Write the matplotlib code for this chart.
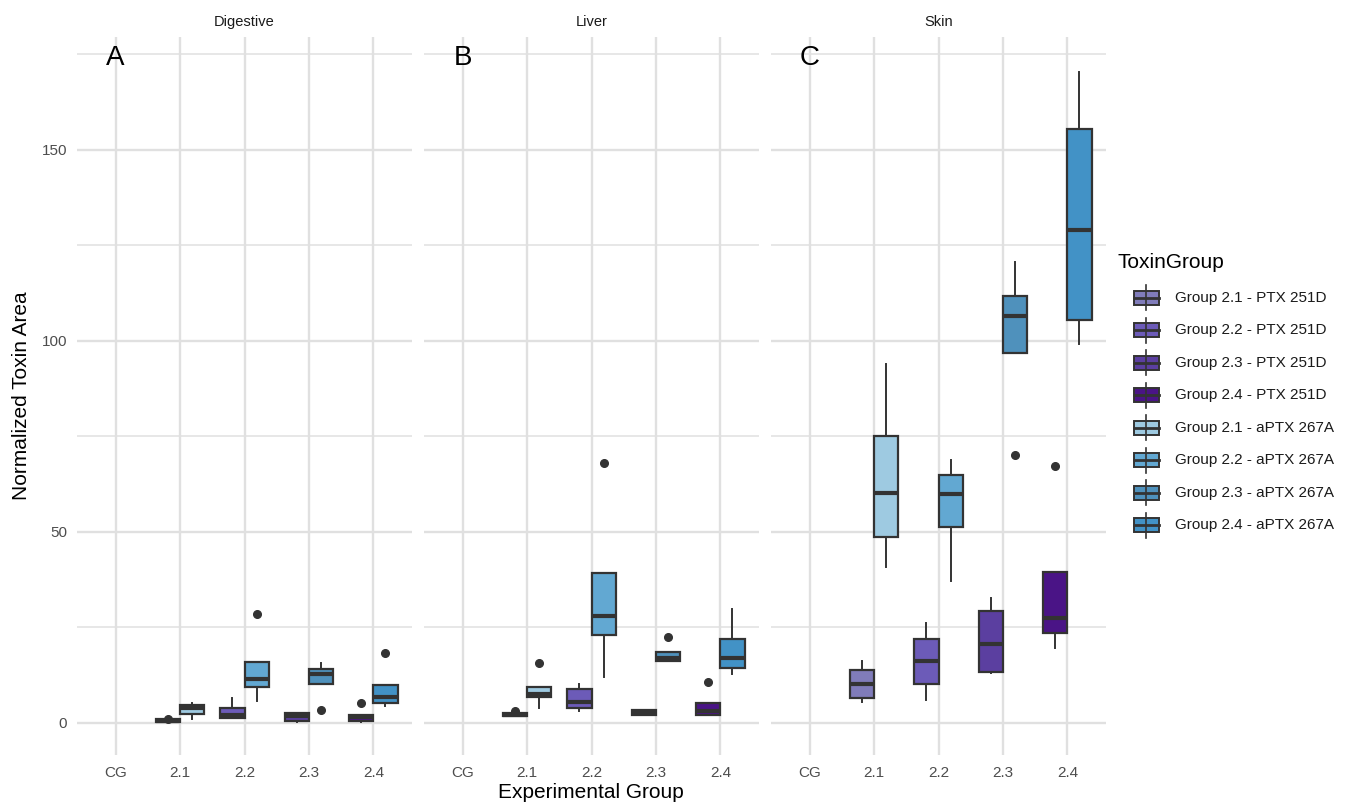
import matplotlib
matplotlib.use('Agg')
import matplotlib.pyplot as plt
from matplotlib.patches import Rectangle
from matplotlib.lines import Line2D
import numpy as np

plt.rcParams['font.family'] = ['Liberation Sans', 'DejaVu Sans']

W, H = 1351, 802

tissues = ['Digestive', 'Liver', 'Skin']
panel_tags = ['A', 'B', 'C']
groups = ['CG', '2.1', '2.2', '2.3', '2.4']
box_groups = ['2.1', '2.2', '2.3', '2.4']
toxins = ['PTX 251D', 'aPTX 267A']

# colours per ToxinGroup level
ptx_colors = ['#807CBA', '#6C5BB8', '#5B3FA0', '#4A1486']
aptx_colors = ['#9ECAE1', '#62A8D2', '#4F91BC', '#4292C6']

# ---- box statistics (groups 2.1 .. 2.4) ----
# Digestive
dig_ptx_lo = [0.1, 1.1, 0.2, 0.2]
dig_ptx_q1 = [0.2, 1.1, 0.3, 0.3]
dig_ptx_med = [0.5, 2.0, 1.6, 1.4]
dig_ptx_q3 = [0.9, 3.7, 2.4, 2.1]
dig_ptx_hi = [0.9, 6.5, 2.6, 2.1]
dig_ptx_out = [[1.0], [], [], [5.0]]

dig_aptx_lo = [1.0, 5.6, 10.0, 4.2]
dig_aptx_q1 = [2.3, 9.2, 10.0, 5.2]
dig_aptx_med = [3.9, 11.5, 12.8, 6.6]
dig_aptx_q3 = [4.7, 15.8, 13.9, 9.7]
dig_aptx_hi = [5.2, 15.8, 15.5, 9.7]
dig_aptx_out = [[], [28.3], [3.2], [18.1]]

# Liver
liv_ptx_lo = [1.6, 3.1, 2.1, 2.1]
liv_ptx_q1 = [1.6, 3.7, 2.1, 2.1]
liv_ptx_med = [2.0, 5.3, 2.8, 3.1]
liv_ptx_q3 = [2.4, 8.7, 3.4, 5.2]
liv_ptx_hi = [2.4, 10.2, 3.4, 5.2]
liv_ptx_out = [[2.9], [], [], [10.5]]

liv_aptx_lo = [3.9, 11.8, 16.2, 12.8]
liv_aptx_q1 = [6.6, 23.0, 16.2, 14.2]
liv_aptx_med = [7.6, 28.0, 17.0, 17.0]
liv_aptx_q3 = [9.4, 39.1, 18.4, 21.8]
liv_aptx_hi = [9.4, 39.1, 18.4, 29.6]
liv_aptx_out = [[15.5], [67.9], [22.5], []]

# Skin
skin_ptx_lo = [5.5, 5.9, 12.9, 19.5]
skin_ptx_q1 = [6.4, 10.2, 13.3, 23.5]
skin_ptx_med = [10.1, 16.1, 20.6, 27.5]
skin_ptx_q3 = [13.8, 21.8, 29.2, 39.4]
skin_ptx_hi = [16.1, 26.0, 32.6, 39.4]
skin_ptx_out = [[], [], [], [67.2]]

skin_aptx_lo = [40.8, 37.1, 96.8, 99.1]
skin_aptx_q1 = [48.7, 51.2, 96.8, 105.3]
skin_aptx_med = [60.1, 59.9, 106.4, 128.9]
skin_aptx_q3 = [75.1, 64.7, 111.6, 155.3]
skin_aptx_hi = [93.9, 68.7, 120.7, 170.4]
skin_aptx_out = [[], [], [70.1], []]

data = {
    'Digestive': [(dig_ptx_lo, dig_ptx_q1, dig_ptx_med, dig_ptx_q3, dig_ptx_hi, dig_ptx_out),
                  (dig_aptx_lo, dig_aptx_q1, dig_aptx_med, dig_aptx_q3, dig_aptx_hi, dig_aptx_out)],
    'Liver': [(liv_ptx_lo, liv_ptx_q1, liv_ptx_med, liv_ptx_q3, liv_ptx_hi, liv_ptx_out),
              (liv_aptx_lo, liv_aptx_q1, liv_aptx_med, liv_aptx_q3, liv_aptx_hi, liv_aptx_out)],
    'Skin': [(skin_ptx_lo, skin_ptx_q1, skin_ptx_med, skin_ptx_q3, skin_ptx_hi, skin_ptx_out),
             (skin_aptx_lo, skin_aptx_q1, skin_aptx_med, skin_aptx_q3, skin_aptx_hi, skin_aptx_out)],
}

EDGE = '#333333'
GRID = '#E0E0E0'

fig = plt.figure(figsize=(W / 100, H / 100), dpi=100)

panel_left, panel_w, gap = 77, 335, 12
panel_top, panel_bot = 37, 755

for i, tissue in enumerate(tissues):
    left = panel_left + i * (panel_w + gap)
    ax = fig.add_axes([left / W, (H - panel_bot) / H, panel_w / W, (panel_bot - panel_top) / H])
    ax.set_xlim(0.4, 5.6)
    ax.set_ylim(-8.5, 179.5)
    for s in ax.spines.values():
        s.set_visible(False)
    ax.set_xticks(range(1, len(groups) + 1))
    ax.set_xticklabels(groups)
    ax.set_yticks([0, 50, 100, 150])
    ax.set_yticks([25, 75, 125, 175], minor=True)
    ax.tick_params(which='both', length=0)
    ax.tick_params(axis='x', labelsize=11, labelcolor='#4D4D4D', pad=8)
    ax.tick_params(axis='y', labelsize=11, labelcolor='#4D4D4D', pad=7)
    if i > 0:
        ax.set_yticklabels([])
    ax.grid(True, which='major', color=GRID, lw=1.7)
    ax.grid(True, which='minor', axis='y', color=GRID, lw=1.1)
    ax.set_axisbelow(True)

    for t, off in enumerate([-0.1875, 0.1875]):
        lo, q1, med, q3, hi, out = data[tissue][t]
        cols = ptx_colors if t == 0 else aptx_colors
        stats = []
        for k in range(len(box_groups)):
            stats.append(dict(whislo=lo[k], q1=q1[k], med=med[k], q3=q3[k],
                              whishi=hi[k], fliers=np.array(out[k])))
        pos = [groups.index(g) + 1 + off for g in box_groups]
        bp = ax.bxp(stats, positions=pos, widths=0.375, patch_artist=True,
                    showcaps=False, manage_ticks=False,
                    boxprops=dict(edgecolor=EDGE, linewidth=1.6),
                    medianprops=dict(color=EDGE, linewidth=3.0, solid_capstyle='butt'),
                    whiskerprops=dict(color=EDGE, linewidth=1.4),
                    flierprops=dict(marker='o', markerfacecolor=EDGE, markeredgecolor=EDGE,
                                    markersize=5.5))
        for patch, c in zip(bp['boxes'], cols):
            patch.set_facecolor(c)

    ax.text(1, 174, panel_tags[i], ha='center', va='center', fontsize=20, color='black')
    ax.set_title(tissue, fontsize=10.5, color='#1A1A1A', pad=8)

fig.text(591 / W, 1 - 793 / H, 'Experimental Group', ha='center', va='center', fontsize=15)
fig.text(22 / W, 1 - 396 / H, 'Normalized Toxin Area', ha='center', va='center',
         rotation=90, fontsize=15)

# legend
lg = fig.add_axes([0, 0, 1, 1])
lg.set_xlim(0, W)
lg.set_ylim(H, 0)
lg.axis('off')
lg.patch.set_alpha(0)
lg.text(1118, 262, 'ToxinGroup', ha='left', va='center', fontsize=15)
labels = [f'Group {g} - {tx}' for tx in toxins for g in box_groups]
colors = ptx_colors + aptx_colors
for j, (lab, c) in enumerate(zip(labels, colors)):
    y = 297.7 + j * 32.5
    lg.add_line(Line2D([1146, 1146], [y - 12.5, y + 12.5], color=EDGE, lw=1.2))
    lg.add_patch(Rectangle((1134, y - 7), 25, 14, facecolor=c, edgecolor=EDGE, lw=1.4))
    lg.add_line(Line2D([1134, 1159], [y, y], color=EDGE, lw=2.0))
    lg.text(1175, y, lab, ha='left', va='center', fontsize=11, color='#1A1A1A')

fig.savefig('out.png', dpi=100)
